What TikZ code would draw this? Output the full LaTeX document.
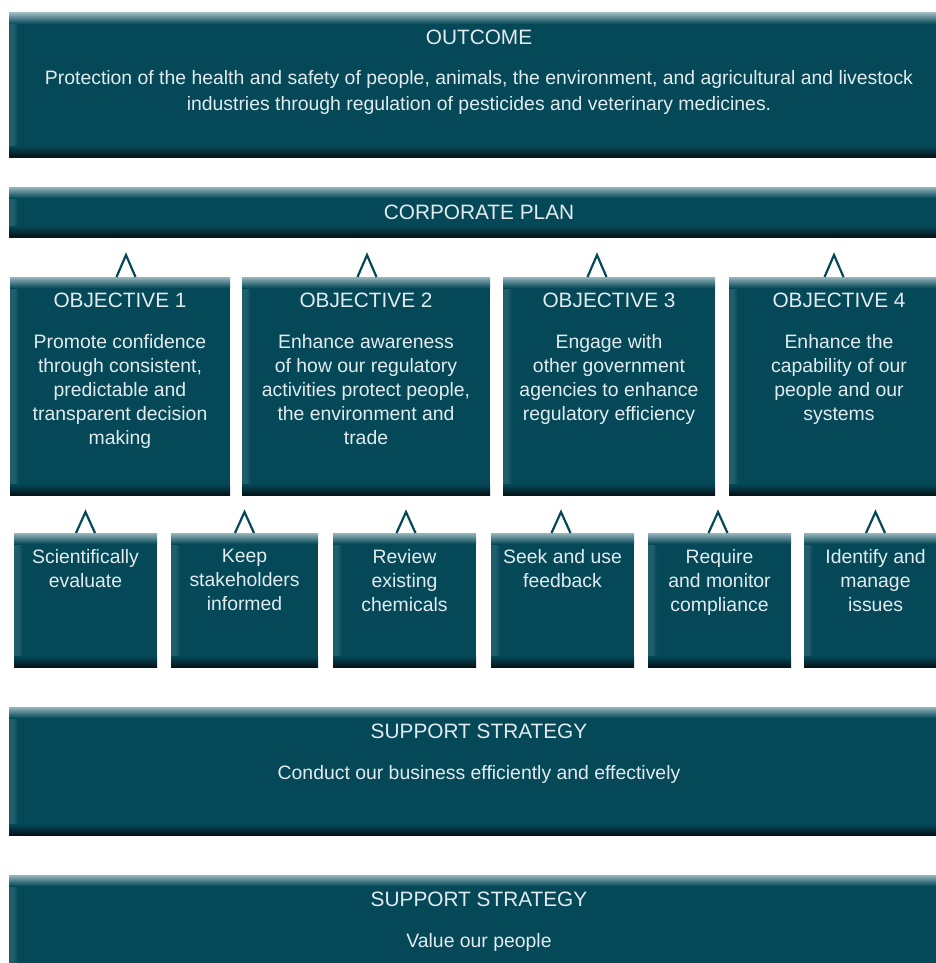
\documentclass[tikz,border=0pt]{standalone}
\usepackage{fontspec}
\setmainfont{Liberation Sans}
\usetikzlibrary{positioning}

\definecolor{boxfill}{RGB}{5,72,88}
\definecolor{bevtop}{RGB}{150,182,188}
\definecolor{bevbot}{RGB}{6,20,24}
\definecolor{bevside}{RGB}{32,94,108}
\definecolor{boxtext}{RGB}{226,236,238}

\newcommand{\headfont}{\fontsize{20.8}{26}\selectfont}
\newcommand{\bodyfont}{\fontsize{19.4}{24}\selectfont}

\tikzset{
	panel/.style={anchor=north west, inner sep=0pt, outer sep=0pt, fill=boxfill,
		path picture={
			\fill[bevside] (path picture bounding box.south west) rectangle ([xshift=4pt]path picture bounding box.north west);
			\shade[left color=bevside, right color=boxfill] ([xshift=4pt]path picture bounding box.south west) rectangle ([xshift=9pt]path picture bounding box.north west);
			\shade[top color=bevtop, bottom color=boxfill] (path picture bounding box.north west) rectangle ([yshift=-11pt]path picture bounding box.north east);
			\shade[top color=boxfill, bottom color=bevbot] ([yshift=11pt]path picture bounding box.south west) rectangle (path picture bounding box.south east);
		}},
	head/.style={anchor=north, inner sep=0pt, text=boxtext, font=\headfont},
	body/.style={anchor=north, inner sep=0pt, text=boxtext, font=\bodyfont, align=center},
	lambda/.style={draw=boxfill, line width=2.2pt},
}

\begin{document}
\begin{tikzpicture}[x=1pt, y=-1pt]
		\useasboundingbox (0,0) rectangle (936,963);
		\clip (0,0) rectangle (936,963);
		
		% outcome and plan bars
		\node[panel, minimum width=940pt, minimum height=144pt] (outcome) at (9,13) {};
		\node[head, below=16.5pt of outcome.north] (outcomehd) {OUTCOME};
		\node[body, font=\fontsize{19.4}{26}\selectfont, below=57pt of outcome.north] (outcometx) {Protection of the health and safety of people, animals, the environment, and agricultural and livestock\\industries through regulation of pesticides and veterinary medicines.};
		
		\node[panel, minimum width=940pt, minimum height=50pt] (plan) at (9,187) {};
		\node[head, anchor=center] (planhd) at (plan.center) {CORPORATE PLAN};
		
		% objectives
		\node[panel, minimum width=220pt, minimum height=218pt] (obj1) at (10,277) {};
		\node[panel, minimum width=248pt, minimum height=218pt] (obj2) at (242,277) {};
		\node[panel, minimum width=212pt, minimum height=218pt] (obj3) at (503,277) {};
		\node[panel, minimum width=220pt, minimum height=218pt] (obj4) at (729,277) {};
		
		\node[head, below=15.5pt of obj1.north] (obj1hd) {OBJECTIVE 1};
		\node[head, below=15.5pt of obj2.north] (obj2hd) {OBJECTIVE 2};
		\node[head, below=15.5pt of obj3.north] (obj3hd) {OBJECTIVE 3};
		\node[head, below=15.5pt of obj4.north] (obj4hd) {OBJECTIVE 4};
		
		\node[body, below=57pt of obj1.north] (obj1tx) {Promote confidence\\through consistent,\\predictable and\\transparent decision\\making};
		\node[body, below=57pt of obj2.north] (obj2tx) {Enhance awareness\\of how our regulatory\\activities protect people,\\the environment and\\trade};
		\node[body, below=57pt of obj3.north] (obj3tx) {Engage with\\other government\\agencies to enhance\\regulatory efficiency};
		\node[body, below=57pt of obj4.north] (obj4tx) {Enhance the\\capability of our\\people and our\\systems};
		
		\draw[lambda] ([xshift=-3.5pt]obj1.north) -- ++(9.5,-22) -- ++(9.5,22);
		\draw[lambda] ([xshift=-8.5pt]obj2.north) -- ++(9.5,-22) -- ++(9.5,22);
		\draw[lambda] ([xshift=-21.5pt]obj3.north) -- ++(9.5,-22) -- ++(9.5,22);
		\draw[lambda] ([xshift=-14.5pt]obj4.north) -- ++(9.5,-22) -- ++(9.5,22);
		
		% strategies
		\node[panel, minimum width=143pt, minimum height=134pt] (str1) at (14,533) {};
		\node[panel, minimum width=147pt, minimum height=134pt] (str2) at (171,533) {};
		\node[panel, minimum width=143pt, minimum height=134pt] (str3) at (333,533) {};
		\node[panel, minimum width=143pt, minimum height=134pt] (str4) at (491,533) {};
		\node[panel, minimum width=143pt, minimum height=134pt] (str5) at (648,533) {};
		\node[panel, minimum width=143pt, minimum height=134pt] (str6) at (804,533) {};
		
		\node[body, below=16pt of str1.north] (str1tx) {Scientifically\\evaluate};
		\node[body, below=16pt of str2.north] (str2tx) {Keep\\stakeholders\\informed};
		\node[body, below=16pt of str3.north] (str3tx) {Review\\existing\\chemicals};
		\node[body, below=16pt of str4.north] (str4tx) {Seek and use\\feedback};
		\node[body, below=16pt of str5.north] (str5tx) {Require\\and monitor\\compliance};
		\node[body, below=16pt of str6.north] (str6tx) {Identify and\\manage\\issues};
		
		\draw[lambda] ([xshift=-9.5pt]str1.north) -- ++(9.5,-21) -- ++(9.5,21);
		\draw[lambda] ([xshift=-9.5pt]str2.north) -- ++(9.5,-21) -- ++(9.5,21);
		\draw[lambda] ([xshift=-8pt]str3.north) -- ++(9.5,-21) -- ++(9.5,21);
		\draw[lambda] ([xshift=-11pt]str4.north) -- ++(9.5,-21) -- ++(9.5,21);
		\draw[lambda] ([xshift=-11pt]str5.north) -- ++(9.5,-21) -- ++(9.5,21);
		\draw[lambda] ([xshift=-9.5pt]str6.north) -- ++(9.5,-21) -- ++(9.5,21);
		
		% support strategies
		\node[panel, minimum width=940pt, minimum height=128pt] (supp1) at (9,707) {};
		\node[head, below=16.5pt of supp1.north] (supp1hd) {SUPPORT STRATEGY};
		\node[body, below=58pt of supp1.north] (supp1tx) {Conduct our business efficiently and effectively};
		
		\node[panel, minimum width=940pt, minimum height=110pt] (supp2) at (9,875) {};
		\node[head, below=16.5pt of supp2.north] (supp2hd) {SUPPORT STRATEGY};
		\node[body, below=58pt of supp2.north] (supp2tx) {Value our people};
	\end{tikzpicture}
\end{document}
